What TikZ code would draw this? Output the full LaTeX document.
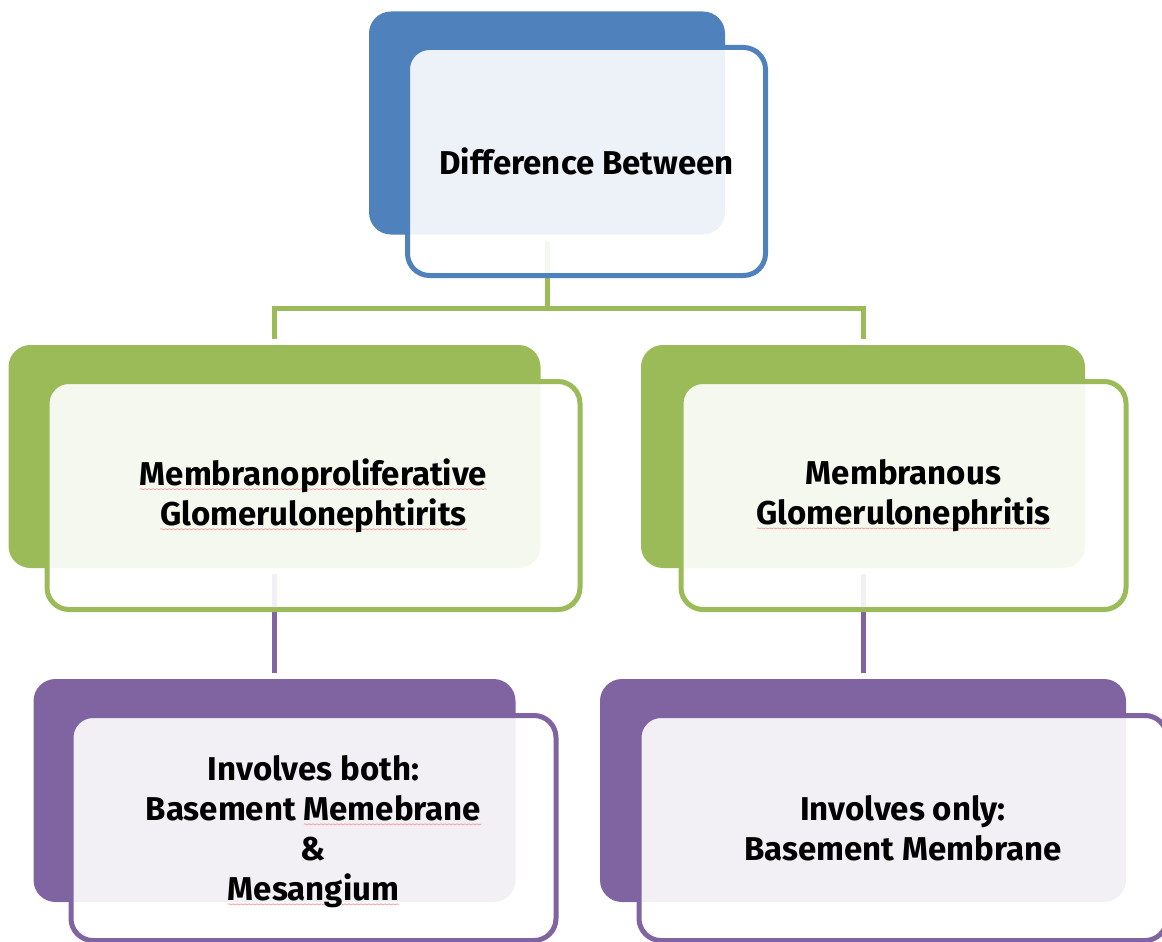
\documentclass[tikz,border=0pt]{standalone}
\usepackage{fontspec}
\setmainfont{Fira Sans}
\usetikzlibrary{backgrounds,decorations.pathmorphing}
\definecolor{blueC}{HTML}{4F81BD}
\definecolor{greenC}{HTML}{9BBB59}
\definecolor{purpleC}{HTML}{8064A2}
\definecolor{squigC}{HTML}{F2A2A2}
% spell-check style wavy underline
\newcommand{\squig}[1]{\setbox0=\hbox{#1}\rlap{\tikz[overlay,baseline=0pt]\draw[squigC,sharp corners,line width=.8pt,decorate,decoration={snake,amplitude=.5pt,segment length=4pt}](0pt,-4pt)--(\wd0,-4pt);}\box0}
\begin{document}
\begin{tikzpicture}[x=1pt, y=-1pt, line join=round, font=\bfseries\fontsize{33}{40}\selectfont,
	back/.style={rounded corners=22pt, fill=#1, inner sep=0pt, outer sep=0pt, minimum height=223pt},
	front/.style={rounded corners=22pt, draw=#1, line width=5pt, fill=white, fill opacity=.9, text opacity=1,
		align=center, inner sep=0pt, outer sep=0pt, minimum height=228pt},
	link/.style={line width=5pt, draw=#1, shorten >=6pt}]
	\useasboundingbox (0,0) rectangle (1162,942);
	% solid boxes behind
	\foreach \n/\c/\x/\y/\w in {topback/blueC/547/123/356, lback/greenC/274.5/456.5/532, rback/greenC/863/456.5/444,
		lpback/purpleC/274.5/790.5/482, rpback/purpleC/863/790.5/526}
	\node[back=\c, minimum width=\w pt] (\n) at (\x,\y) {};
	% framed boxes in front
	\node[front=blueC, minimum width=358pt] (top) at (586.5,161.5) {Difference Between};
	\node[front=greenC, minimum width=533pt] (mpgn) at (313.5,495.5) {\squig{Membranoproliferative}\\ \squig{Glomerulonephtirits}};
	\node[front=greenC, minimum width=445pt] (mgn) at (903.5,495.5) {Membranous\\ \squig{Glomerulonephritis}};
	\node[front=purpleC, minimum width=485pt, minimum height=225pt] (both) at (313.5,828) {\\[-8pt]Involves both:\\ Basement \squig{Memebrane}\\ \&\\ \squig{Mesangium}};
	\node[front=purpleC, minimum width=528pt, minimum height=225pt] (only) at (903,828) {Involves only:\\ Basement Membrane};
	\begin{scope}[on background layer]
		\draw[link=greenC, shorten <=6pt] (topback.south) -- ++(0,74) coordinate (bar) -| (lback.north);
		\draw[link=greenC] (bar) -| (rback.north);
		\draw[link=purpleC, shorten <=6pt] (lback.south) -- (lpback.north);
		\draw[link=purpleC, shorten <=6pt] (rback.south) -- (rpback.north);
	\end{scope}
\end{tikzpicture}
\end{document}
